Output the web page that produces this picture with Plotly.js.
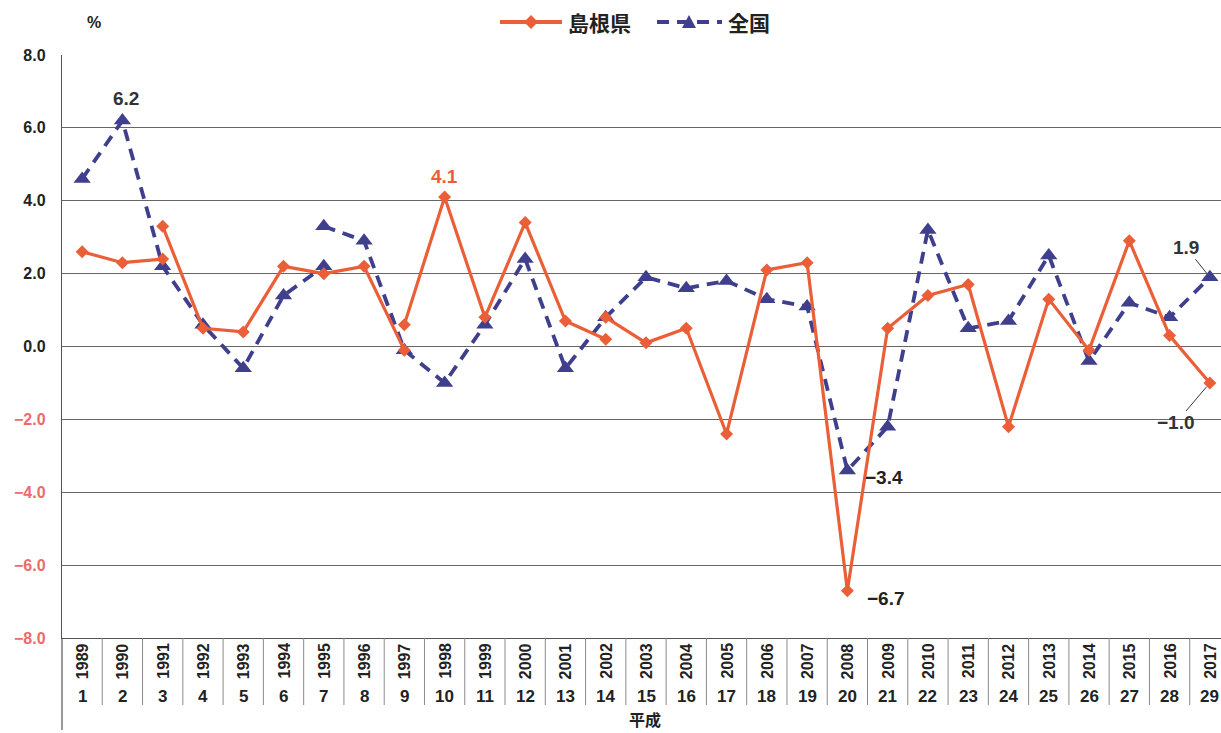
<!DOCTYPE html>
<html>
<head>
<meta charset="utf-8">
<script src="https://cdn.plot.ly/plotly-3.0.1.min.js"></script>
<style>
html,body{margin:0;padding:0;overflow:hidden;background:#fff;}
#chart{width:1230px;height:733px;}
</style>
</head>
<body>
<div id="chart"></div>
<script>
// categories
const years = ["1989","1990","1991","1992","1993","1994","1995","1996","1997","1998","1999","2000","2001","2002","2003","2004","2005","2006","2007","2008","2009","2010","2011","2012","2013","2014","2015","2016","2017"];
const heisei = ["1","2","3","4","5","6","7","8","9","10","11","12","13","14","15","16","17","18","19","20","21","22","23","24","25","26","27","28","29"];

// 島根県 (segments, as drawn in the source chart)
const shimaneYearsA = ["1989","1990","1991"];
const shimaneA = [2.6, 2.3, 2.4];
const shimaneYearsB = ["1991","1992","1993","1994","1995","1996","1997"];
const shimaneB = [3.3, 0.5, 0.4, 2.2, 2.0, 2.2, -0.1];
const shimaneYearsC = ["1997","1998","1999","2000","2001","2002"];
const shimaneC = [0.6, 4.1, 0.8, 3.4, 0.7, 0.2];
const shimaneYearsD = ["2002","2003","2004","2005","2006","2007","2008","2009","2010","2011","2012","2013","2014","2015","2016","2017"];
const shimaneD = [0.8, 0.1, 0.5, -2.4, 2.1, 2.3, -6.7, 0.5, 1.4, 1.7, -2.2, 1.3, -0.1, 2.9, 0.3, -1.0];

// 全国 (segments)
const zenkokuYearsA = ["1989","1990","1991","1992","1993","1994","1995"];
const zenkokuA = [4.6, 6.2, 2.2, 0.6, -0.6, 1.4, 2.2];
const zenkokuYearsB = ["1995","1996","1997","1998","1999","2000","2001","2002","2003","2004","2005","2006","2007","2008","2009","2010","2011","2012","2013","2014","2015","2016","2017"];
const zenkokuB = [3.3, 2.9, -0.1, -1.0, 0.6, 2.4, -0.6, 0.8, 1.9, 1.6, 1.8, 1.3, 1.1, -3.4, -2.2, 3.2, 0.5, 0.7, 2.5, -0.4, 1.2, 0.8, 1.9];

// y ticks
const yTickVals = [8, 6, 4, 2, 0, -2, -4, -6, -8];
const yTickText = ["8.0","6.0","4.0","2.0","0.0","−2.0","−4.0","−6.0","−8.0"];

const ORANGE = "#EA5F37";
const BLUE = "#3F3F8E";
const NEG = "#EC6B6B";

function shimaneTrace(x, y) {
  return {x: x, y: y, type: "scatter", mode: "lines+markers", name: "島根県", showlegend: false,
    line: {color: ORANGE, width: 3.2},
    marker: {symbol: "diamond", size: 10, color: ORANGE}};
}
function zenkokuTrace(x, y) {
  return {x: x, y: y, type: "scatter", mode: "lines+markers", name: "全国", showlegend: false,
    line: {color: BLUE, width: 3.8, dash: "12px,8px"},
    marker: {symbol: "triangle-up", size: 15, color: BLUE}};
}

const traces = [
  zenkokuTrace(zenkokuYearsA, zenkokuA),
  zenkokuTrace(zenkokuYearsB, zenkokuB),
  shimaneTrace(shimaneYearsA, shimaneA),
  shimaneTrace(shimaneYearsB, shimaneB),
  shimaneTrace(shimaneYearsC, shimaneC),
  shimaneTrace(shimaneYearsD, shimaneD),
];

const FONT = "Liberation Sans, Arial, sans-serif";
const L = 62, PW = 1168, PH = 583, T = 55; // plot geometry in px
const px = X => (X - L) / PW;        // page px -> paper x
const py = Y => 1 - (Y - T) / PH;    // page px -> paper y
const idx = yr => years.indexOf(yr);

const annotations = [];
// two-row category labels: rotated year, Heisei number below
years.forEach((yr, i) => {
  annotations.push({x: i, xref: "x", y: py(661), yref: "paper", yanchor: "middle", xanchor: "center",
    text: yr, textangle: -90, showarrow: false,
    font: {family: FONT, size: 16, color: "#222", weight: "bold"}});
  annotations.push({x: i, xref: "x", y: py(696), yref: "paper", yanchor: "middle", text: heisei[i],
    showarrow: false, font: {family: FONT, size: 17, color: "#222", weight: "bold"}});
});
annotations.push({x: px(645), xref: "paper", y: py(719), yref: "paper", yanchor: "middle", text: "平成",
  showarrow: false, font: {family: "Noto Sans CJK JP", size: 16, color: "#222", weight: "bold"}});
annotations.push({x: px(85), xref: "paper", y: py(22), yref: "paper", yanchor: "middle", text: "%",
  showarrow: false, font: {family: FONT, size: 16, color: "#222", weight: "bold"}});
// legend texts
annotations.push({x: px(566), xref: "paper", y: py(22), yref: "paper", text: "島根県", xanchor: "left", yanchor: "middle",
  showarrow: false, font: {family: "Noto Sans CJK JP", size: 21, color: "#222", weight: "bold"}});
annotations.push({x: px(726), xref: "paper", y: py(22), yref: "paper", text: "全国", xanchor: "left", yanchor: "middle",
  showarrow: false, font: {family: "Noto Sans CJK JP", size: 21, color: "#222", weight: "bold"}});
// value labels
annotations.push({x: idx("1990"), y: zenkokuA[1], text: "6.2", showarrow: false, yshift: 22, xshift: 4,
  font: {family: FONT, size: 19, color: "#333", weight: "bold"}});
annotations.push({x: idx("1998"), y: shimaneC[1], text: "4.1", showarrow: false, yshift: 21,
  font: {family: FONT, size: 19, color: ORANGE, weight: "bold"}});
annotations.push({x: idx("2008"), y: zenkokuB[13], text: "−3.4", showarrow: false, xanchor: "left", xshift: 16, yshift: -7,
  font: {family: FONT, size: 19, color: "#222", weight: "bold"}});
annotations.push({x: idx("2008"), y: shimaneD[6], text: "−6.7", showarrow: false, xanchor: "left", xshift: 18, yshift: -8,
  font: {family: FONT, size: 19, color: "#222", weight: "bold"}});
annotations.push({x: idx("2017"), y: zenkokuB[22], text: "1.9", showarrow: true, arrowhead: 0, arrowwidth: 1, arrowcolor: "#333",
  ax: -24, ay: -30, standoff: 5, font: {family: FONT, size: 19, color: "#333", weight: "bold"}});
annotations.push({x: idx("2017"), y: shimaneD[15], text: "−1.0", showarrow: true, arrowhead: 0, arrowwidth: 1, arrowcolor: "#333",
  ax: -34, ay: 40, standoff: 5, font: {family: FONT, size: 19, color: "#333", weight: "bold"}});

const shapes = [];
for (let i = 0; i < years.length - 1; i++) {
  shapes.push({type: "line", xref: "x", yref: "paper", x0: i + 0.5, x1: i + 0.5, y0: 0, y1: py(705),
    line: {color: "#8a8a8a", width: 1}});
}
shapes.push({type: "line", xref: "paper", yref: "paper", x0: 0, x1: 0, y0: 0, y1: py(730),
  line: {color: "#555", width: 1.2}});
// legend samples
shapes.push({type: "line", xref: "paper", yref: "paper", x0: px(500), x1: px(562), y0: py(22), y1: py(22),
  line: {color: ORANGE, width: 4}});
shapes.push({type: "path", xref: "paper", yref: "paper", xsizemode: "pixel", ysizemode: "pixel",
  xanchor: px(531), yanchor: py(22), path: "M-7,0 L0,7 L7,0 L0,-7 Z",
  fillcolor: ORANGE, line: {width: 0}});
shapes.push({type: "line", xref: "paper", yref: "paper", x0: px(657), x1: px(722), y0: py(22), y1: py(22),
  line: {color: BLUE, width: 4, dash: "12px,8px"}});
shapes.push({type: "path", xref: "paper", yref: "paper", xsizemode: "pixel", ysizemode: "pixel",
  xanchor: px(689), yanchor: py(22), path: "M-7,-6 L7,-6 L0,7 Z",
  fillcolor: BLUE, line: {width: 0}});

const layout = {
  width: 1230, height: 733,
  margin: {l: L, r: 0, t: T, b: 95},
  paper_bgcolor: "#fff", plot_bgcolor: "#fff",
  font: {family: FONT, color: "#222"},
  showlegend: false,
  xaxis: {type: "category", categoryorder: "array", categoryarray: years,
    range: [-0.5, years.length - 0.5], showticklabels: false,
    showgrid: false, zeroline: false, showline: true, linecolor: "#555", linewidth: 1.2,
    ticks: "", fixedrange: true},
  yaxis: {range: [-8, 8], tickvals: yTickVals,
    ticktext: yTickText.map((t, i) => yTickVals[i] < 0 ? '<span style="color:' + NEG + '">' + t + '</span>' : t),
    tickfont: {family: FONT, size: 16, color: "#222", weight: "bold"},
    ticklabelstandoff: 12,
    showgrid: true, gridcolor: "#666", gridwidth: 1.1, zeroline: false,
    showline: true, linecolor: "#555", linewidth: 1.2, ticks: "", fixedrange: true},
  annotations: annotations,
  shapes: shapes
};

Plotly.newPlot("chart", traces, layout, {displayModeBar: false, staticPlot: true});
</script>
</body>
</html>
